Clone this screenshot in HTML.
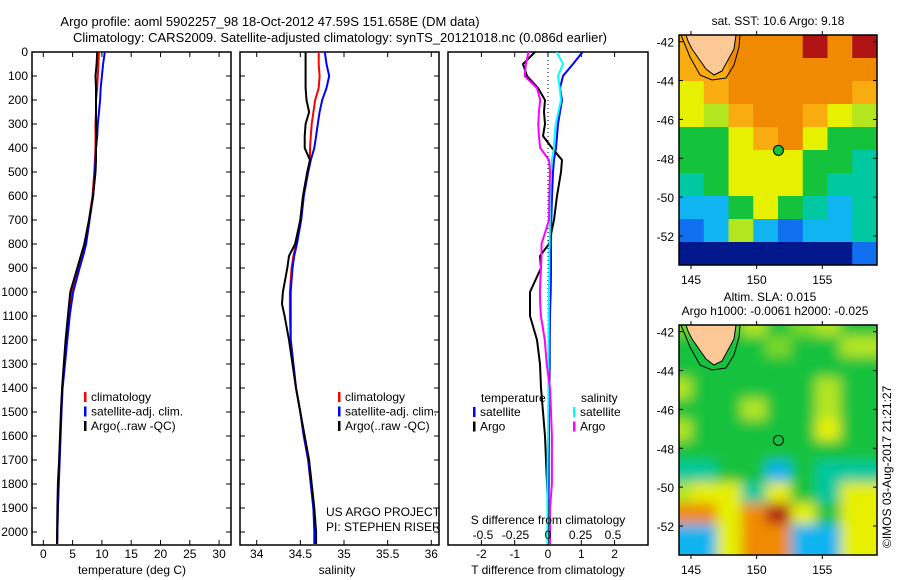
<!DOCTYPE html>
<html><head><meta charset="utf-8">
<style>
html,body{margin:0;padding:0;background:#fff;}
svg{display:block;font-family:"Liberation Sans",sans-serif;}
text{font-size:12px;fill:#000;}
</style></head>
<body>
<svg id="fig" width="900" height="580" viewBox="0 0 900 580" xmlns="http://www.w3.org/2000/svg">
<defs>
<clipPath id="c1"><rect x="32" y="52" width="199" height="493"/></clipPath>
<clipPath id="c2"><rect x="240" y="52" width="199" height="493"/></clipPath>
<clipPath id="c3"><rect x="448" y="52" width="200" height="493"/></clipPath>
<clipPath id="m1"><rect x="679" y="35" width="198" height="230"/></clipPath>
<clipPath id="m2"><rect x="679" y="325" width="198" height="230"/></clipPath>
<filter id="bl" x="-5%" y="-5%" width="110%" height="110%"><feGaussianBlur stdDeviation="6"/></filter>
</defs>
<text x="270" y="26" style="font-size:13px" text-anchor="middle">Argo profile: aoml 5902257_98 18-Oct-2012 47.59S 151.658E (DM data)</text>
<text x="340" y="42" style="font-size:13px" text-anchor="middle">Climatology: CARS2009. Satellite-adjusted climatology: synTS_20121018.nc (0.086d earlier)</text>
<g id="g1"></g>
<g id="g2"></g>
<g id="g3"></g>
<g id="map1"></g>
<g id="map2"></g>
<text x="778" y="25" text-anchor="middle">sat. SST: 10.6 Argo: 9.18</text>
<text x="770" y="301" text-anchor="middle">Altim. SLA: 0.015</text>
<text x="775" y="315" text-anchor="middle">Argo h1000: -0.0061 h2000: -0.025</text>
<text transform="translate(891,548) rotate(-90)">©IMOS 03-Aug-2017 21:21:27</text>
</svg>
<script>
// depth grid (m)
const depths   = [0,50,100,150,200,250,300,350,400,450,500,600,700,800,850,900,1000,1050,1100,1200,1300,1400,1500,1600,1700,1800,1900,2000,2050];
// temperature (deg C)
const tempClim = [9.5,9.4,9.3,9.2,9.0,9.0,8.9,8.9,8.9,8.8,8.7,8.4,7.8,7.1,6.6,6.0,4.9,4.6,4.4,4.0,3.6,3.25,3.05,2.9,2.75,2.6,2.5,2.4,2.35];
const tempSat  = [10.5,10.2,10.0,9.8,9.7,9.5,9.3,9.2,9.0,8.9,8.8,8.5,7.9,7.3,6.8,6.2,5.1,4.8,4.5,4.1,3.7,3.3,3.1,2.95,2.8,2.65,2.5,2.4,2.35];
const tempArgo = [9.2,9.1,8.9,9.0,9.0,9.0,9.0,9.1,9.0,9.0,8.9,8.5,7.8,7.0,6.4,5.8,4.6,4.4,4.2,3.8,3.5,3.2,3.0,2.85,2.7,2.5,2.4,2.35,2.35];
// salinity
const salClim  = [34.71,34.71,34.72,34.71,34.67,34.65,34.63,34.62,34.61,34.61,34.58,34.53,34.50,34.45,34.42,34.40,34.38,34.38,34.38,34.39,34.42,34.45,34.50,34.54,34.59,34.62,34.65,34.67,34.68];
const salSat   = [34.78,34.80,34.83,34.80,34.75,34.72,34.70,34.68,34.66,34.62,34.59,34.54,34.51,34.46,34.43,34.41,34.39,34.39,34.39,34.39,34.42,34.45,34.50,34.54,34.59,34.62,34.65,34.66,34.66];
const salArgo  = [34.56,34.56,34.56,34.56,34.57,34.60,34.56,34.55,34.55,34.61,34.58,34.53,34.50,34.44,34.37,34.35,34.30,34.29,34.32,34.37,34.41,34.45,34.50,34.55,34.60,34.63,34.66,34.68,34.68];
// differences from climatology
const dTsat    = [1.04,0.75,0.45,0.36,0.42,0.36,0.30,0.27,0.24,0.18,0.15,0.12,0.10,0.09,0.09,0.09,0.08,0.07,0.06,0.05,0.05,0.04,0.03,0.03,0.02,0.02,0.01,0.0,0.0];
const dTargo   = [-0.39,-0.75,-0.63,-0.30,-0.09,-0.12,-0.09,-0.15,0.12,0.42,0.39,0.27,0.18,0.03,-0.24,-0.21,-0.54,-0.54,-0.54,-0.33,-0.24,-0.21,-0.15,-0.09,-0.06,-0.03,0.0,0.0,0.0];
const dSsat    = [0.067,0.115,0.077,0.09,0.10,0.08,0.06,0.05,0.046,0.03,0.023,0.018,0.015,0.012,0.01,0.01,0.008,0.007,0.006,0.005,0.004,0.003,0.002,0.0,-0.003,-0.005,-0.005,-0.005,-0.005];
const dSargo   = [-0.15,-0.17,-0.18,-0.085,-0.06,-0.07,-0.075,-0.07,-0.06,0.008,0.015,0.01,0.008,-0.05,-0.05,-0.055,-0.062,-0.06,-0.055,-0.025,-0.01,0.015,0.023,0.03,0.03,0.03,0.015,0.015,0.015];
// tick labels
const depthTicks = [0,100,200,300,400,500,600,700,800,900,1000,1100,1200,1300,1400,1500,1600,1700,1800,1900,2000];
const tempTicks  = [0,5,10,15,20,25,30];
const salTicks   = [34,34.5,35,35.5,36];
const dTTicks    = [-2,-1,0,1,2];
const dSTicks    = [-0.5,-0.25,0,0.25,0.5];
const lonTicks   = [145,150,155];
const latTicks   = [-42,-44,-46,-48,-50,-52];
// map colour grids (coarse cells, classes)
const sstGrid = ["ooOOOROR","ooOOOOOO","YoOOOOOo","YyoOOoYy","GGYoOYGG","GGYYYGGT","TGYYYGTT","CCGYGTCT","BCyCBCCT","NNNNNNNB"];
const slaGrid = ["gGGyGgyG","GGGGgGGy","GGGGGGGG","yGGGGGyG","GGGyGGyG","yGGGGGYG","GGGGGGGG","TTGGCGTT","yYYTYGTY","OOYORYGY","CCYOOCCY"];

const NS="http://www.w3.org/2000/svg";
function mk(tag,attrs,parent){const e=document.createElementNS(NS,tag);for(const k in attrs)e.setAttribute(k,attrs[k]);parent.appendChild(e);return e;}
const yD = d => 52 + d*0.24;
const xT = t => 43.3 + t*5.86;
const xS = s => 256.7 + (s-34)*87.3;
const xDT = t => 548 + t*33.3;
const xDS = s => 548 + s*130;

function frame(g,x0,w,name){
  const r=mk('rect',{x:x0,y:52,width:w,height:493,fill:'none',stroke:'#000','stroke-width':1.5},g);
  
  
}
function line(g,xs,xf,color,clip,name,w){
  const p=mk('polyline',{points:xs.map((v,i)=>xf(v).toFixed(1)+','+yD(depths[i]).toFixed(1)).join(' '),fill:'none',stroke:color,'stroke-width':w||2,'clip-path':'url(#'+clip+')'},g);
  
  
}
function ticksX(g,vals,xf,y0,y1,labels,ly){
  vals.forEach(v=>{
    const x=xf(v);
    mk('line',{x1:x,x2:x,y1:y0,y2:y0-5,stroke:'#000'},g);
    mk('line',{x1:x,x2:x,y1:y1,y2:y1+5,stroke:'#000'},g);
    if(labels){const t=mk('text',{x:x,y:ly,'text-anchor':'middle'},g);t.textContent=String(v);
      
      }
  });
}
function legend(g,x,y,items){
  items.forEach((it,i)=>{
    mk('rect',{x:x,y:y+i*14.5-9,width:2.5,height:10,fill:it[0]},g);
    const t=mk('text',{x:x+7,y:y+i*14.5},g);t.textContent=it[1];
    
    
  });
}
// Panel 1
const g1=document.getElementById('g1');
frame(g1,32,199,'temperature');
depthTicks.forEach(d=>{
  mk('line',{x1:32,x2:37,y1:yD(d),y2:yD(d),stroke:'#000'},g1);
  mk('line',{x1:231,x2:226,y1:yD(d),y2:yD(d),stroke:'#000'},g1);
  mk('line',{x1:240,x2:245,y1:yD(d),y2:yD(d),stroke:'#000'},g1);
  mk('line',{x1:439,x2:434,y1:yD(d),y2:yD(d),stroke:'#000'},g1);
  const t=mk('text',{x:28,y:yD(d)+4,'text-anchor':'end'},g1);t.textContent=String(d);
  
  
});
ticksX(g1,tempTicks,xT,545,52,true,558);
line(g1,tempClim,xT,'#f00','c1','temp-climatology-line');
line(g1,tempSat,xT,'#00f','c1','temp-satellite-line');
line(g1,tempArgo,xT,'#000','c1','temp-argo-line');
legend(g1,84,401,[['#f00','climatology'],['#00f','satellite-adj. clim.'],['#000','Argo(..raw -QC)']]);
let t=mk('text',{x:132,y:574,'text-anchor':'middle'},g1);t.textContent='temperature (deg C)';


// Panel 2
const g2=document.getElementById('g2');
frame(g2,240,199,'salinity');
ticksX(g2,salTicks,xS,545,52,true,558);
line(g2,salClim,xS,'#f00','c2','sal-climatology-line');
line(g2,salSat,xS,'#00f','c2','sal-satellite-line');
line(g2,salArgo,xS,'#000','c2','sal-argo-line');
legend(g2,338,401,[['#f00','climatology'],['#00f','satellite-adj. clim.'],['#000','Argo(..raw -QC)']]);
t=mk('text',{x:326,y:516},g2);t.textContent='US ARGO PROJECT';


t=mk('text',{x:326,y:531},g2);t.textContent='PI: STEPHEN RISER';


t=mk('text',{x:337,y:574,'text-anchor':'middle'},g2);t.textContent='salinity';


// Panel 3
const g3=document.getElementById('g3');
frame(g3,448,200,'difference');
mk('line',{x1:548,x2:548,y1:52,y2:545,stroke:'#000','stroke-dasharray':'1,3'},g3);
ticksX(g3,dTTicks,xDT,545,52,true,558);
line(g3,dTsat,xDT,'#00f','c3','tdiff-satellite-line');
line(g3,dTargo,xDT,'#000','c3','tdiff-argo-line');
line(g3,dSsat,xDS,'#0ff','c3','sdiff-satellite-line');
line(g3,dSargo,xDS,'#f0f','c3','sdiff-argo-line');
dSTicks.forEach(v=>{const tt=mk('text',{x:xDS(v),y:539,'text-anchor':'middle'},g3);tt.textContent=String(v);
  
  });
t=mk('text',{x:548,y:524,'text-anchor':'middle'},g3);t.textContent='S difference from climatology';


t=mk('text',{x:481,y:402},g3);t.textContent='temperature';


t=mk('text',{x:581,y:402},g3);t.textContent='salinity';


legend(g3,473,416,[['#00f','satellite'],['#000','Argo']]);
legend(g3,573,416,[['#0ff','satellite'],['#f0f','Argo']]);
t=mk('text',{x:548,y:574,'text-anchor':'middle'},g3);t.textContent='T difference from climatology';



// Maps
const pal={R:'#b01414',O:'#f08a00',o:'#f8ac10',Y:'#e6f000',y:'#b4e620',G:'#14c23c',g:'#7ad828',T:'#00c8a0',C:'#10b4f0',B:'#1070f0',N:'#00188c'};
const xLon = l => 691 + (l-145)*13.13;
function drawMap(id,top,grid,clip,blur,dotFill){
  const g=document.getElementById(id);
  const yLat = l => top + 6.7 + (-42-l)*19.43;
  const gg=mk('g',{'clip-path':'url(#'+clip+')'},g);
  const inner=mk('g',blur?{filter:'url(#bl)'}:{},gg);
  const cw=198/8,ch=230/grid.length;
  grid.forEach((row,r)=>{[...row].forEach((c,k)=>{
    const cell=mk('rect',{x:679+k*cw-(blur?12:0),y:top+r*ch-(blur?10:0),width:cw+(blur?24:0.5),height:ch+(blur?20:0.5),fill:pal[c]},inner);
    
    
  });});
  const land=mk('path',{d:`M686,${top} L736,${top} L734,${top+14} L728,${top+25} L722,${top+36} L714,${top+40} L706,${top+34} L699,${top+24} L692,${top+14} L688,${top+6} Z`,fill:'#fcc896',stroke:'#000','stroke-width':1},gg);
  
  
  const cont=mk('path',{d:`M681,${top} L690,${top+22} L700,${top+40} L712,${top+45} L726,${top+43} L734,${top+30} L739,${top+12} L740,${top}`,fill:'none',stroke:'#000','stroke-width':1},gg);
  
  
  const dot=mk('circle',{cx:xLon(151.658),cy:yLat(-47.59),r:5,fill:dotFill,stroke:'#000','stroke-width':1},g);
  
  
  const fr=mk('rect',{x:679,y:top,width:198,height:230,fill:'none',stroke:'#000','stroke-width':1.5},g);
  
  
  latTicks.forEach(l=>{
    mk('line',{x1:679,x2:683,y1:yLat(l),y2:yLat(l),stroke:'#000'},g);
    mk('line',{x1:877,x2:873,y1:yLat(l),y2:yLat(l),stroke:'#000'},g);
    const tt=mk('text',{x:674,y:yLat(l)+5,'text-anchor':'end'},g);tt.textContent=String(l);
    
    
  });
  lonTicks.forEach(l=>{
    mk('line',{x1:xLon(l),x2:xLon(l),y1:top,y2:top-4,stroke:'#000'},g);
    mk('line',{x1:xLon(l),x2:xLon(l),y1:top+230,y2:top+234,stroke:'#000'},g);
    const tt=mk('text',{x:xLon(l),y:top+249,'text-anchor':'middle'},g);tt.textContent=String(l);
    
    
  });
}
drawMap('map1',35,sstGrid,'m1',false,'#14c23c');
drawMap('map2',325,slaGrid,'m2',true,'none');
</script>
</body></html>
